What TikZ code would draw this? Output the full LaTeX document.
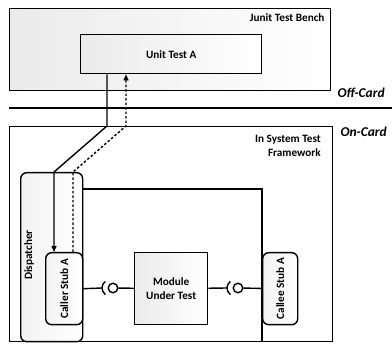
\documentclass[tikz,border=0pt]{standalone}
\usepackage{fontspec}
\setmainfont{Carlito}
\usetikzlibrary{arrows.meta}

\begin{document}
\begin{tikzpicture}[x=1pt, y=-1pt,
  box/.style={draw, line width=1.4pt, anchor=north west, inner sep=0pt,
    left color=black!8, right color=white},
  stubbox/.style={box, rounded corners=6pt, left color=black!5},
  lbl/.style={font=\fontsize{11.2}{14}\selectfont\bfseries, align=center},
  card/.style={font=\fontsize{13.5}{16}\selectfont\bfseries\itshape, anchor=west},
  link/.style={line width=1.4pt},
  call/.style={line width=1.4pt, -{Triangle[length=6pt,width=5pt]}},
  reply/.style={call, dash pattern=on 2.5pt off 2pt},
  ball/.style={circle, draw, line width=1.4pt, minimum size=9.5pt, inner sep=0pt, fill=white}]
\useasboundingbox (0,0) rectangle (392,345);

% off-card
\begin{scope}
\node[box, minimum width=321pt, minimum height=82pt] (bench) at (9,8) {};
\node[lbl, anchor=east] (benchlbl) at (328,18) {Junit Test Bench};
\node[box, lbl, minimum width=181pt, minimum height=39pt] (unitA) at (80,34) {Unit Test A};
\node[card] (offcard) at (334,93) {Off-Card};
\end{scope}

\draw[link] (bench.west |- 0,108) -- (392,108);

% on-card
\begin{scope}
\node[draw, line width=1.4pt, fill=white, anchor=north west, minimum width=323pt, minimum height=215pt] (frame) at (9,126) {};
\node[lbl, align=right, anchor=north east, inner sep=0pt] (framelbl) at (321,135) {In System Test\\Framework};
\node[card] (oncard) at (337,132) {On-Card};

\node[stubbox, minimum width=62pt, minimum height=169pt] (dispatcher) at (20,172) {};
\node[lbl, rotate=90] (dispatchlbl) at (29,255) {Dispatcher};

\coordinate (corner) at (262,189);
\draw[link] (dispatcher.east |- corner) -- (corner) -- (corner |- frame.south);

\node[stubbox, minimum width=37pt, minimum height=72pt] (caller) at (45,252) {};
\node[lbl, rotate=90] (callerlbl) at (caller) {Caller Stub A};
\node[box, lbl, minimum width=73pt, minimum height=72pt] (module) at (134,252) {Module\\Under Test};
\node[stubbox, minimum width=35pt, minimum height=72pt] (callee) at (262,252) {};
\node[lbl, rotate=90] (calleelbl) at (callee) {Callee Stub A};

% ball and socket
\node[ball] (ballA) at (113,288) {};
\draw[link] (caller.east) -- (102,288);
\draw[link] (110,288) ++(125:8) arc[start angle=125, end angle=235, radius=8];
\draw[link] (ballA) -- (module);

\node[ball] (ballB) at (238,288) {};
\draw[link] (module) -- (227,288);
\draw[link] (235,288) ++(125:8) arc[start angle=125, end angle=235, radius=8];
\draw[link] (ballB) -- (callee);
\end{scope}

% call and reply
\coordinate (s1) at (107,126);
\coordinate (s2) at (54,172);
\coordinate (d1) at (126,126);
\coordinate (d2) at (73,172);
\draw[call] (unitA.south -| s1) -- (s1) -- (s2) -- (caller.north -| s2);
\draw[reply] (caller.north -| d2) -- (d2) -- (d1) -- (unitA.south -| d1);
\end{tikzpicture}
\end{document}
